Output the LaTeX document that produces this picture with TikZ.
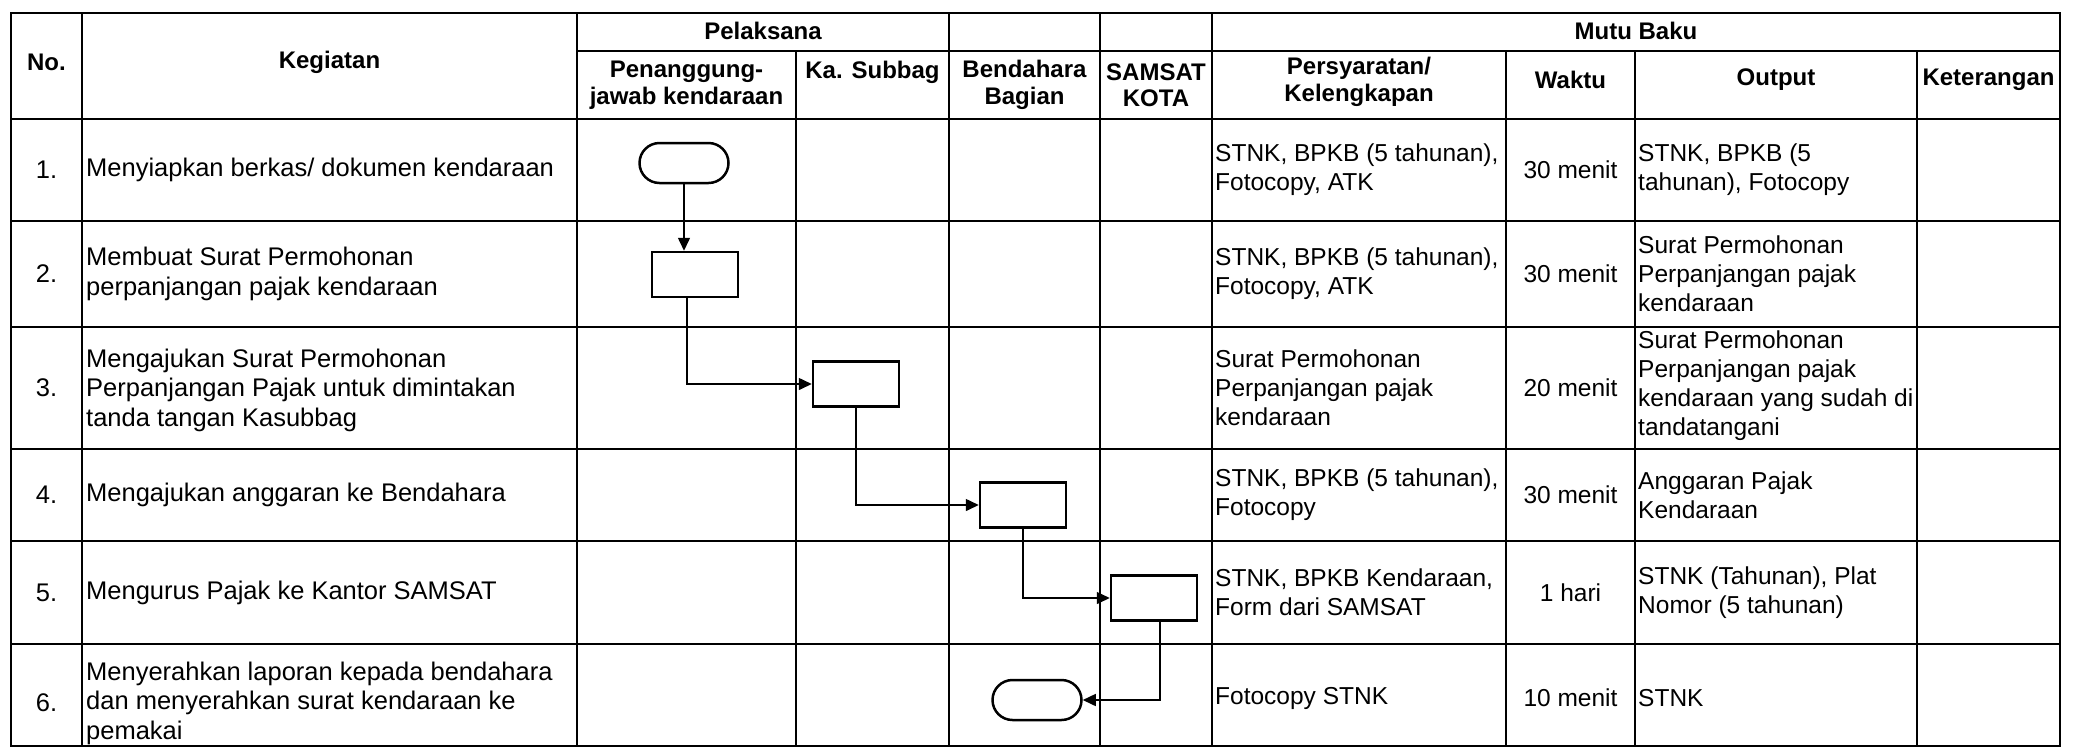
\documentclass[tikz,border=0pt]{standalone}
\usepackage{fontspec}
\setmainfont{Liberation Sans}
\usetikzlibrary{arrows.meta}
\begin{document}
\begin{tikzpicture}[x=1pt,y=-1pt,
  grid/.style={line width=2pt},
  hdr/.style={font=\fontsize{24}{26.5}\selectfont\bfseries, align=center, inner sep=0pt},
  txt/.style={font=\fontsize{25.5}{29.5}\selectfont, align=left, inner sep=0pt, anchor=west},
  txtr/.style={font=\fontsize{24.5}{29}\selectfont, align=left, inner sep=0pt, anchor=west},
  ctr/.style={font=\fontsize{25.5}{29.5}\selectfont, align=center, inner sep=0pt},
  ctrr/.style={font=\fontsize{24.5}{29}\selectfont, align=center, inner sep=0pt},
  procbox/.style={draw, line width=2.5pt, minimum width=86pt, minimum height=45pt, inner sep=0pt},
  termbox/.style={draw, line width=2.5pt, rounded corners=20pt, minimum width=89pt, minimum height=40pt, inner sep=0pt},
  flow/.style={line width=1.5pt, -{Triangle[length=13pt,width=12pt]}}
]
\useasboundingbox[fill=white] (0,0) rectangle (2074,748);

% ---- table grid ----
\draw[grid] (11,13) rectangle (2060,746);
\draw[grid] (577,51) -- (2060,51);
\foreach \yy in {119,221,327,449,541,644} \draw[grid] (11,\yy) -- (2060,\yy);
\foreach \xx in {82,577,949,1100,1212} \draw[grid] (\xx,13) -- (\xx,746);
\foreach \xx in {796,1506,1635,1917} \draw[grid] (\xx,51) -- (\xx,746);

% ---- header ----
\node[hdr] (hno) at (46.5,62) {No.};
\node[hdr] (hkeg) at (329.5,62) {Kegiatan};
\node[hdr] (hpel) at (763,31) {Pelaksana};
\node[hdr] (hmutu) at (1636,31) {Mutu Baku};
\node[hdr] (hpj) at (686.5,85) {Penanggung-\\jawab kendaraan};
\node[hdr] (hks) at (872.5,72) {Ka. Subbag};
\node[hdr] (hbend) at (1024.5,85) {Bendahara\\Bagian};
\node[hdr] (hsam) at (1156,85) {SAMSAT\\KOTA};
\node[hdr] (hpers) at (1359,82) {Persyaratan/\\Kelengkapan};
\node[hdr] (hwak) at (1570.5,80) {Waktu};
\node[hdr] (hout) at (1776,80) {Output};
\node[hdr] (hket) at (1988.5,80) {Keterangan};

% ---- row numbers ----
\node[ctr] (n1) at (46.5,170) {1.};
\node[ctr] (n2) at (46.5,274) {2.};
\node[ctr] (n3) at (46.5,388) {3.};
\node[ctr] (n4) at (46.5,495) {4.};
\node[ctr] (n5) at (46.5,592.5) {5.};
\node[ctr] (n6) at (46.5,703) {6.};

% ---- kegiatan ----
\node[txt] (k1) at (86,170) {Menyiapkan berkas/ dokumen kendaraan};
\node[txt] (k2) at (86,274) {Membuat Surat Permohonan\\perpanjangan pajak kendaraan};
\node[txt] (k3) at (86,390) {Mengajukan Surat Permohonan\\Perpanjangan Pajak untuk dimintakan\\tanda tangan Kasubbag};
\node[txt] (k4) at (86,495) {Mengajukan anggaran ke Bendahara};
\node[txt] (k5) at (86,592.5) {Mengurus Pajak ke Kantor SAMSAT};
\node[txt] (k6) at (86,703) {Menyerahkan laporan kepada bendahara\\dan menyerahkan surat kendaraan ke\\pemakai};

% ---- persyaratan ----
\node[txtr] (p1) at (1215,170) {STNK, BPKB (5 tahunan),\\Fotocopy, ATK};
\node[txtr] (p2) at (1215,274) {STNK, BPKB (5 tahunan),\\Fotocopy, ATK};
\node[txtr] (p3) at (1215,388) {Surat Permohonan\\Perpanjangan pajak\\kendaraan};
\node[txtr] (p4) at (1215,495) {STNK, BPKB (5 tahunan),\\Fotocopy};
\node[txtr] (p5) at (1215,592.5) {STNK, BPKB Kendaraan,\\Form dari SAMSAT};
\node[txtr] (p6) at (1215,698) {Fotocopy STNK};

% ---- waktu ----
\node[ctrr] (w1) at (1570.5,170) {30 menit};
\node[ctrr] (w2) at (1570.5,274) {30 menit};
\node[ctrr] (w3) at (1570.5,388) {20 menit};
\node[ctrr] (w4) at (1570.5,495) {30 menit};
\node[ctrr] (w5) at (1570.5,592.5) {1 hari};
\node[ctrr] (w6) at (1570.5,698) {10 menit};

% ---- output ----
\node[txtr] (o1) at (1638,170) {STNK, BPKB (5\\tahunan), Fotocopy};
\node[txtr] (o2) at (1638,274) {Surat Permohonan\\Perpanjangan pajak\\kendaraan};
\node[txtr] (o3) at (1638,386) {Surat Permohonan\\Perpanjangan pajak\\kendaraan yang sudah di\\tandatangani};
\node[txtr] (o4) at (1638,495) {Anggaran Pajak\\Kendaraan};
\node[txtr] (o5) at (1638,592.5) {STNK (Tahunan), Plat\\Nomor (5 tahunan)};
\node[txtr] (o6) at (1638,698) {STNK};

% ---- flow shapes ----
\node[termbox] (t1) at (684,163) {};
\node[procbox] (b2) at (695,274.5) {};
\node[procbox] (b3) at (856,384) {};
\node[procbox] (b4) at (1023,505) {};
\node[procbox] (b5) at (1154,598) {};
\node[termbox] (t2) at (1037,700) {};

\draw[flow] (t1.south) -- (t1.south |- b2.north);
\draw[flow] ([xshift=-8pt]b2.south) |- (b3.west);
\draw[flow] (b3.south) |- (b4.west);
\draw[flow] (b4.south) |- (b5.west);
\draw[flow] ([xshift=6pt]b5.south) |- (t2.east);
\end{tikzpicture}
\end{document}
